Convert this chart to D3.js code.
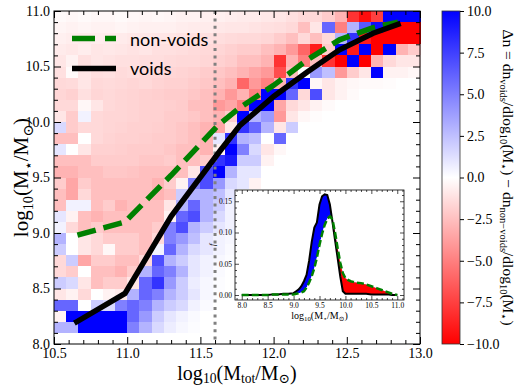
<!DOCTYPE html>
<html><head><meta charset="utf-8">
<script src="https://cdn.jsdelivr.net/npm/d3@7"></script>
<style>body{margin:0;background:#fff} svg{display:block}</style>
</head><body>
<svg id="c" width="520" height="386"></svg>
<script>
// ---------------- DATA ----------------
const mtotRange = [10.5, 13.0];   // x extent of the 2D histogram
const mstarRange = [8.0, 11.0];   // y extent
const nCols = 30, nRows = 30;
// Δn per cell; rows listed from top (10.9-11.0) to bottom (8.0-8.1), 30 columns from 10.5 to 13.0
const deltaN = [
[-0.2,-0.3,-0.2,-0.3,-0.3,-0.2,-0.3,-0.4,-0.3,-0.4,-0.5,-0.5,-0.6,-0.6,-0.7,-0.8,-0.8,-0.9,-1.0,-1.2,-1.5,-1.5,-2.0,-3.0,-8.0,-9.5,-7.5,10,10,10],
[-0.4,-0.5,-0.4,-0.5,-0.5,-0.4,-0.5,-0.6,-0.6,-0.6,-0.7,-0.8,-0.8,-0.9,-1.0,-1.0,-1.1,-1.2,-1.3,-1.5,-2.5,-1.0,6.0,-5.0,3.0,6.5,9.5,-10,-10,-10],
[-0.6,-0.7,-0.8,-0.7,-0.8,-0.8,-0.9,-0.9,-1.0,-1.0,-1.1,-1.2,-1.2,-1.3,-1.4,-1.5,-1.5,-1.6,-2.0,-2.5,-1.5,-2.5,-1.5,3.0,8.0,-9.0,-10,-10,-10,-10],
[-0.8,-0.9,-0.7,-1.0,-0.9,-1.0,-1.1,-1.0,-1.2,-1.2,-1.3,-1.4,-1.5,-1.6,-1.8,-2.0,-2.0,-2.5,-3.0,-4.0,-6.0,-9.0,-2.0,10,-9.0,10,-10,10,-3.0,-2.0],
[-1.0,-0.5,-1.2,-1.0,-1.1,-1.2,-1.2,-1.3,-1.3,-1.4,-1.5,-1.5,-1.6,-1.8,-2.0,-2.5,-2.5,-3.0,-8.0,-3.0,-5.0,-2.5,-8.0,-10,10,-10,-3.0,-1.5,-1.0,-1.0],
[-1.2,-0.2,-1.0,-1.3,-1.2,-1.4,-1.3,-1.5,-1.5,-1.6,-1.7,-1.8,-2.0,-2.2,-2.5,-3.0,-3.5,-4.0,-7.0,-2.5,0.0,4.0,2.5,-4.0,-2.0,-1.0,10,-0.5,-0.5,-0.3],
[-1.5,-1.4,-1.0,-1.5,-1.4,-1.5,-1.6,-1.5,-1.7,-1.8,-1.8,-2.0,-2.2,-2.5,-3.0,-6.0,-4.0,-5.0,-3.0,8.0,10,-0.3,-1.0,-0.5,-0.3,-0.2,-0.2,-0.1,0,0],
[-1.6,-1.8,-1.2,-1.6,-1.5,-1.6,-1.7,-1.8,-1.9,-2.0,-2.0,-2.2,-2.5,-3.0,-4.0,-3.0,-5.0,10,10,6.0,-1.5,7.0,-1.0,-0.5,-0.2,0,0,0,0,0],
[-1.5,-1.5,-0.3,-1.0,-1.5,-1.6,-1.7,-1.8,-1.8,-1.9,-2.0,-2.5,-2.5,-4.0,-3.5,-5.0,10,10,-3.5,-1.5,-1.0,-0.5,-0.2,0,0,0,0,0,0,0],
[-1.0,-2.0,0.5,-1.5,-1.6,-1.6,-1.7,-1.8,-1.8,-2.0,-2.0,-2.2,-2.5,-3.0,-2.0,10,3.0,4.0,-4.0,-1.0,-0.3,-0.1,0,0,0,0,0,0,0,0],
[1.5,-2.0,-1.5,-1.5,-1.6,-1.7,-1.8,-1.8,-1.9,-2.0,-2.2,-2.5,-3.0,-3.5,-1.0,8.0,6.0,3.0,-1.0,2.0,0,0,0,0,0,0,0,0,0,0],
[-2.5,-2.5,0.0,-1.5,-1.7,-1.8,-1.8,-1.9,-2.0,-2.0,-2.2,-2.5,-3.0,1.0,8.0,3.0,2.5,0.0,6.0,0,0,0,0,0,0,0,0,0,0,0],
[1.0,0.0,-1.0,-1.8,-1.8,-1.9,-2.0,-2.0,-2.0,-2.2,-2.5,-2.5,-3.0,-0.5,10,5.0,1.5,-1.0,-0.3,0,0,0,0,0,0,0,0,0,0,0],
[-2.5,-2.5,-2.5,-2.0,-2.0,-2.0,-2.0,-2.2,-2.2,-2.0,-2.5,-2.5,-2.0,8.0,9.0,2.0,2.0,-0.5,0,0,0,0,0,0,0,0,0,0,0,0],
[-3.0,-3.0,-2.5,-2.5,-2.2,-2.2,-2.3,-2.5,-2.5,-2.5,-2.5,-1.0,7.0,10,3.0,1.0,1.0,0,0,0,0,0,0,0,0,0,0,0,0,0],
[-2.0,-3.5,-2.0,-2.5,-2.5,-2.5,-2.5,-2.5,-3.0,-2.0,-0.5,5.0,7.0,4.0,1.5,1.0,-0.5,0,0,0,0,0,0,0,0,0,0,0,0,0],
[-2.5,-3.5,-1.5,-2.5,-2.5,-2.5,-2.5,-2.5,-3.0,-2.5,2.0,3.0,3.0,2.5,1.0,0,0,0,0,0,0,0,0,0,0,0,0,0,0,0],
[-2.5,0.5,0.5,-2.5,-2.0,-3.0,-2.5,-2.5,-2.5,-1.0,3.0,6.0,3.0,2.0,0.5,0,0,0,0,0,0,0,0,0,0,0,0,0,0,0],
[1.0,-0.5,-2.5,-3.0,-2.5,-2.5,-2.5,-2.5,-2.5,-0.5,6.0,7.0,3.0,1.5,0.5,0,0,0,0,0,0,0,0,0,0,0,0,0,0,0],
[0.5,-1.5,-2.5,-2.0,-2.5,-2.5,-2.5,-2.5,-2.0,5.0,7.0,3.0,2.0,1.0,0.5,0,0,0,0,0,0,0,0,0,0,0,0,0,0,0],
[3.0,0.0,-1.0,-1.5,-2.0,-2.0,-2.0,-2.5,-1.5,5.0,4.0,2.5,1.0,0.5,0.3,0,0,0,0,0,0,0,0,0,0,0,0,0,0,0],
[2.0,0.0,-1.0,-1.5,-0.3,-2.0,-2.0,-2.5,0.5,6.0,3.0,1.5,1.0,0.5,0.2,0,0,0,0,0,0,0,0,0,0,0,0,0,0,0],
[-1.5,2.0,-3.5,-2.0,-2.0,-2.5,-2.5,-1.5,7.0,3.0,2.0,1.0,0.5,0.3,0.1,0,0,0,0,0,0,0,0,0,0,0,0,0,0,0],
[-1.5,-2.0,0.0,-2.5,-2.5,-3.0,-2.0,3.0,6.0,5.0,3.0,1.0,0.5,0.2,0,0,0,0,0,0,0,0,0,0,0,0,0,0,0,0],
[2.0,1.5,-1.0,-2.5,-2.0,-2.0,-1.0,6.0,8.0,4.0,2.0,0.7,0.3,0.1,0,0,0,0,0,0,0,0,0,0,0,0,0,0,0,0],
[-1.0,-0.5,-1.5,0.0,-0.5,-0.8,3.0,6.0,5.0,3.0,2.0,1.0,0.3,0.1,0,0,0,0,0,0,0,0,0,0,0,0,0,0,0,0],
[6.0,6.0,0.0,2.0,1.5,5.0,6.0,5.0,3.0,2.0,1.5,0.5,0.2,0,0,0,0,0,0,0,0,0,0,0,0,0,0,0,0,0],
[-0.5,10,10,10,10,10,6.0,4.0,2.0,1.0,0.5,0.2,0,0,0,0,0,0,0,0,0,0,0,0,0,0,0,0,0,0],
[3.0,3.0,10,10,10,10,5.0,3.0,1.5,0.7,0.3,0.1,0,0,0,0,0,0,0,0,0,0,0,0,0,0,0,0,0,0],
[0,0,0,0,0,0,0,0,0,0,0,0,0,0,0,0,0,0,0,0,0,0,0,0,0,0,0,0,0,0]
];
// median relations
const voidsX    = [10.655, 10.985, 11.30, 11.64, 11.77, 12.00, 12.23, 12.45, 12.68, 12.85];
const voidsY    = [8.20,   8.455,  9.15,  9.75,  9.97,  10.23, 10.45, 10.65, 10.80, 10.88];
const nonvoidsX = [10.66, 10.985, 11.30, 11.62, 11.77, 12.00, 12.23, 12.45, 12.68, 12.85];
const nonvoidsY = [8.98,  9.10,   9.52,  9.97,  10.13, 10.33, 10.56, 10.74, 10.85, 10.90];
const cutMtot = 11.6;
// inset: normalised stellar mass functions
const insetX  = [8.0,8.1,8.2,8.3,8.4,8.5,8.6,8.7,8.8,8.9,9.0,9.05,9.1,9.15,9.2,9.25,9.3,9.35,9.4,9.45,9.5,9.55,9.6,9.65,9.7,9.75,9.8,9.85,9.9,9.95,10.0,10.05,10.1,10.15,10.2,10.3,10.4,10.5,10.6,10.7,10.8,10.9,11.0];
const insetVoids = [0,0,0,0,0,0,0.001,0.001,0.002,0.002,0.003,0.006,0.009,0.014,0.022,0.032,0.055,0.085,0.108,0.116,0.145,0.158,0.161,0.160,0.145,0.117,0.088,0.059,0.030,0.006,0.002,0.002,0.002,0.002,0.002,0.002,0.002,0.001,0.001,0.001,0.001,0,0];
const insetNonVoids = [0,0,0,0,0,0,0.001,0.001,0.001,0.001,0.001,0.002,0.003,0.004,0.006,0.012,0.020,0.030,0.043,0.060,0.080,0.098,0.112,0.122,0.126,0.121,0.100,0.075,0.052,0.035,0.027,0.024,0.022,0.021,0.020,0.019,0.017,0.014,0.011,0.008,0.005,0.002,0];
const cbTicks = [-10,-7.5,-5,-2.5,0,2.5,5,7.5,10];
const xMajor = [10.5,11.0,11.5,12.0,12.5,13.0];
const yMajor = [8.0,8.5,9.0,9.5,10.0,10.5,11.0];
const insetXMajor = [8.0,8.5,9.0,9.5,10.0,10.5,11.0];
const insetYMajor = [0,0.05,0.10,0.15];

// ---------------- DRAW ----------------
const svg = d3.select("#c");
const serif = "'Liberation Serif','DejaVu Serif',serif";
const L = 54, R = 420, T = 11, B = 344;
const x = d3.scaleLinear().domain(mtotRange).range([L, R]);
const y = d3.scaleLinear().domain(mstarRange).range([B, T]);
const color = d3.scaleLinear().domain([-10, 0, 10]).range(["#ff0000", "#ffffff", "#0000ff"]).clamp(true);

const dx = (mtotRange[1]-mtotRange[0])/nCols, dy = (mstarRange[1]-mstarRange[0])/nRows;
const cells = [];
deltaN.forEach((row, r) => row.forEach((v, c) => cells.push({c, r, v})));
svg.append("g").attr("shape-rendering","crispEdges").selectAll("rect").data(cells).join("rect")
  .attr("x", d => x(mtotRange[0] + d.c*dx))
  .attr("y", d => y(mstarRange[1] - d.r*dy))
  .attr("width", d => x(mtotRange[0] + (d.c+1)*dx) - x(mtotRange[0] + d.c*dx) + 0.5)
  .attr("height", d => y(mstarRange[1] - (d.r+1)*dy) - y(mstarRange[1] - d.r*dy) + 0.5)
  .attr("fill", d => color(d.v));

// dotted cut
svg.append("line").attr("x1", x(cutMtot)).attr("x2", x(cutMtot)).attr("y1", T).attr("y2", B)
  .attr("stroke", "#808080").attr("stroke-width", 3).attr("stroke-dasharray", "3,4.4");

// lines
const line = d3.line().x(d => x(d[0])).y(d => y(d[1]));
svg.append("path").datum(nonvoidsX.map((v,i)=>[v, nonvoidsY[i]])).attr("d", line)
  .attr("fill","none").attr("stroke","#008000").attr("stroke-width",5.5).attr("stroke-dasharray","19,8");
svg.append("path").datum(voidsX.map((v,i)=>[v, voidsY[i]])).attr("d", line)
  .attr("fill","none").attr("stroke","#000").attr("stroke-width",5.5).attr("stroke-linecap","square");

// axes
function styleAxis(g){ g.select(".domain").remove(); g.selectAll("line").attr("stroke","#000"); g.selectAll("text").attr("font-family", serif).attr("font-size", 14).attr("fill","#000"); }
const xMinor = d3.range(105, 131).map(v => v/10).filter(v => !xMajor.some(m => Math.abs(m-v)<1e-6));
const yMinor = d3.range(80, 111).map(v => v/10).filter(v => !yMajor.some(m => Math.abs(m-v)<1e-6));
svg.append("g").attr("transform",`translate(0,${B})`).call(d3.axisBottom(x).tickValues(xMajor).tickSize(-7).tickPadding(4).tickFormat(d3.format(".1f"))).call(styleAxis);
svg.append("g").attr("transform",`translate(0,${B})`).call(d3.axisBottom(x).tickValues(xMinor).tickSize(-4).tickFormat("")).call(styleAxis);
svg.append("g").attr("transform",`translate(0,${T})`).call(d3.axisTop(x).tickValues(xMajor).tickSize(-7).tickFormat("")).call(styleAxis);
svg.append("g").attr("transform",`translate(0,${T})`).call(d3.axisTop(x).tickValues(xMinor).tickSize(-4).tickFormat("")).call(styleAxis);
svg.append("g").attr("transform",`translate(${L},0)`).call(d3.axisLeft(y).tickValues(yMajor).tickSize(-7).tickPadding(4).tickFormat(d3.format(".1f"))).call(styleAxis);
svg.append("g").attr("transform",`translate(${L},0)`).call(d3.axisLeft(y).tickValues(yMinor).tickSize(-4).tickFormat("")).call(styleAxis);
svg.append("g").attr("transform",`translate(${R},0)`).call(d3.axisRight(y).tickValues(yMajor).tickSize(-7).tickFormat("")).call(styleAxis);
svg.append("g").attr("transform",`translate(${R},0)`).call(d3.axisRight(y).tickValues(yMinor).tickSize(-4).tickFormat("")).call(styleAxis);
svg.append("rect").attr("x",L).attr("y",T).attr("width",R-L).attr("height",B-T).attr("fill","none").attr("stroke","#000").attr("stroke-width",1);

// rich text helper (subscripts)
function rich(t, parts, size, shift){
  const sh = shift === undefined ? 0.22 : shift;
  let sub = false;
  parts.forEach(([s, isSub]) => {
    const ts = t.append("tspan").text(s).attr("font-size", isSub ? size*0.68 : size);
    if (isSub && !sub) ts.attr("dy", size*sh);
    if (!isSub && sub) ts.attr("dy", -size*sh);
    sub = isSub;
  });
}
// axis labels
rich(svg.append("text").attr("x", (L+R)/2).attr("y", 380).attr("text-anchor","middle").attr("font-family",serif),
  [["log",0],["10",1],["(M",0],["tot",1],["/M",0],["⊙",1],[")",0]], 20, 0.17);
rich(svg.append("text").attr("transform",`translate(28,${(T+B)/2}) rotate(-90)`).attr("text-anchor","middle").attr("font-family",serif),
  [["log",0],["10",1],["(M",0],["⋆",1],["/M",0],["⊙",1],[")",0]], 21);

// legend
svg.append("line").attr("x1",72).attr("x2",116).attr("y1",38.5).attr("y2",38.5).attr("stroke","#008000").attr("stroke-width",5.5).attr("stroke-dasharray","23,10");
svg.append("text").attr("x",130).attr("y",46).text("non-voids").attr("font-family","Lato, 'Open Sans', sans-serif").attr("font-size",18);
svg.append("line").attr("x1",72).attr("x2",116).attr("y1",68.5).attr("y2",68.5).attr("stroke","#000").attr("stroke-width",5.5);
svg.append("text").attr("x",130).attr("y",75).text("voids").attr("font-family","Lato, 'Open Sans', sans-serif").attr("font-size",18);

// colorbar
const cbX = 442, cbW = 18;
const cb = d3.scaleLinear().domain([-10,10]).range([B, T]);
const grad = svg.append("defs").append("linearGradient").attr("id","cbg").attr("x1",0).attr("y1",1).attr("x2",0).attr("y2",0);
grad.selectAll("stop").data([-10,0,10]).join("stop").attr("offset", d => (d+10)/20).attr("stop-color", d => color(d));
svg.append("rect").attr("x",cbX).attr("y",T).attr("width",cbW).attr("height",B-T).attr("fill","url(#cbg)").attr("stroke","#333").attr("stroke-width",0.8);
svg.append("g").attr("transform",`translate(${cbX+cbW},0)`).call(d3.axisRight(cb).tickValues(cbTicks).tickSize(4).tickPadding(3).tickFormat(d => d3.format(".1f")(d).replace("-","−"))).call(styleAxis);
rich(svg.append("text").attr("transform",`translate(503,${(T+B)/2}) rotate(90)`).attr("text-anchor","middle").attr("font-family",serif),
  [["Δn = dn",0],["voids",1],["/dlog",0],["10",1],["(M",0],["⋆",1],[") − dn",0],["non−voids",1],["/dlog",0],["10",1],["(M",0],["⋆",1],[")",0]], 15.5);

// ---------------- INSET ----------------
const iL = 235, iR = 404, iT = 190, iB = 300;
const ix = d3.scaleLinear().domain([7.87, 11.13]).range([iL, iR]);
const iy = d3.scaleLinear().domain([-0.008, 0.168]).range([iB, iT]);
const ins = svg.append("g");
ins.append("rect").attr("x",iL).attr("y",iT).attr("width",iR-iL).attr("height",iB-iT).attr("fill","#fff");
const defs = svg.select("defs");
const pts = insetX.map((v,i) => ({x:v, v:insetVoids[i], n:insetNonVoids[i]}));
defs.append("clipPath").attr("id","aboveN").append("path")
  .attr("d", d3.area().x(d=>ix(d.x)).y0(iT-5).y1(d=>iy(d.n))(pts));
defs.append("clipPath").attr("id","aboveV").append("path")
  .attr("d", d3.area().x(d=>ix(d.x)).y0(iT-5).y1(d=>iy(d.v))(pts));
const between = d3.area().x(d=>ix(d.x)).y0(d=>iy(d.n)).y1(d=>iy(d.v));
ins.append("path").attr("d", between(pts)).attr("fill","#0000ff").attr("clip-path","url(#aboveN)");
ins.append("path").attr("d", between(pts)).attr("fill","#ff0000").attr("clip-path","url(#aboveV)");
const il = d3.line().x(d=>ix(d[0])).y(d=>iy(d[1]));
ins.append("path").attr("d", il(insetX.map((v,i)=>[v, insetVoids[i]]))).attr("fill","none").attr("stroke","#000").attr("stroke-width",2);
ins.append("path").attr("d", il(insetX.map((v,i)=>[v, insetNonVoids[i]]))).attr("fill","none").attr("stroke","#008000").attr("stroke-width",2.5).attr("stroke-dasharray","7,3");
function styleInset(g){ g.select(".domain").remove(); g.selectAll("line").attr("stroke","#000").attr("stroke-width",0.7); g.selectAll("text").attr("font-family", serif).attr("font-size", 7.5).attr("fill","#000"); }
const ixMinor = d3.range(79, 112).map(v=>v/10).filter(v => !insetXMajor.some(m => Math.abs(m-v)<1e-6));
const iyMinor = d3.range(0, 17).map(v=>v/100).filter(v => !insetYMajor.some(m => Math.abs(m-v)<1e-6));
ins.append("g").attr("transform",`translate(0,${iB})`).call(d3.axisBottom(ix).tickValues(insetXMajor).tickSize(-4).tickPadding(3).tickFormat(d3.format(".1f"))).call(styleInset);
ins.append("g").attr("transform",`translate(0,${iB})`).call(d3.axisBottom(ix).tickValues(ixMinor).tickSize(-2).tickFormat("")).call(styleInset);
ins.append("g").attr("transform",`translate(0,${iT})`).call(d3.axisTop(ix).tickValues(insetXMajor).tickSize(-4).tickFormat("")).call(styleInset);
ins.append("g").attr("transform",`translate(0,${iT})`).call(d3.axisTop(ix).tickValues(ixMinor).tickSize(-2).tickFormat("")).call(styleInset);
ins.append("g").attr("transform",`translate(${iL},0)`).call(d3.axisLeft(iy).tickValues(insetYMajor).tickSize(-4).tickPadding(3).tickFormat(d3.format(".2f"))).call(styleInset);
ins.append("g").attr("transform",`translate(${iL},0)`).call(d3.axisLeft(iy).tickValues(iyMinor).tickSize(-2).tickFormat("")).call(styleInset);
ins.append("g").attr("transform",`translate(${iR},0)`).call(d3.axisRight(iy).tickValues(insetYMajor).tickSize(-4).tickFormat("")).call(styleInset);
ins.append("g").attr("transform",`translate(${iR},0)`).call(d3.axisRight(iy).tickValues(iyMinor).tickSize(-2).tickFormat("")).call(styleInset);
ins.append("rect").attr("x",iL).attr("y",iT).attr("width",iR-iL).attr("height",iB-iT).attr("fill","none").attr("stroke","#000").attr("stroke-width",0.8);
rich(ins.append("text").attr("x",(iL+iR)/2).attr("y",319).attr("text-anchor","middle").attr("font-family",serif),
  [["log",0],["10",1],["(M",0],["⋆",1],["/M",0],["⊙",1],[")",0]], 10);
ins.append("text").attr("transform",`translate(215,245) rotate(-90)`).attr("text-anchor","middle").attr("font-family",serif).attr("font-size",8).attr("font-style","italic").text("f");
</script>
</body></html>
